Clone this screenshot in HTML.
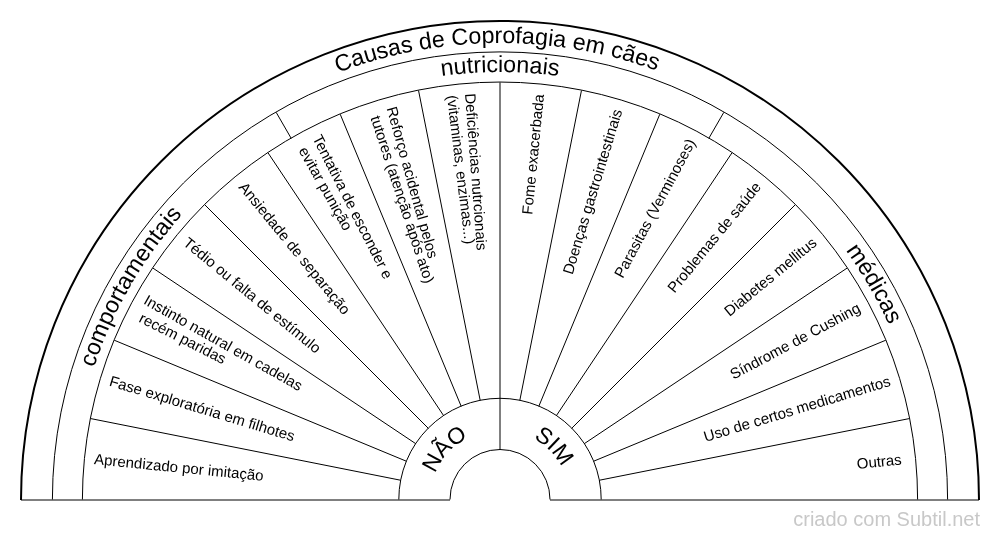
<!DOCTYPE html>
<html><head><meta charset="utf-8"><style>
html,body{margin:0;padding:0;background:#fff;width:1000px;height:540px;overflow:hidden}
svg{position:absolute;left:0;top:0;will-change:transform}
</style></head><body>
<svg width="1000" height="540" viewBox="0 0 1000 540">
<defs>
<path id="pt" d="M43.00,500.00 A457,457 0 0 1 957.00,500.00"/>
<path id="pc" d="M72.00,500.00 A428,428 0 0 1 928.00,500.00"/>
<path id="pcl" d="M73.00,500.00 A427,427 0 0 1 927.00,500.00"/>
<path id="pcr" d="M73.50,500.00 A426.5,426.5 0 0 1 926.50,500.00"/>
<path id="pr" d="M430.00,500.00 A70,70 0 0 1 570.00,500.00"/>
</defs>
<g fill="none" stroke="#000">
<path d="M21.00,500.00 A479,479 0 0 1 979.00,500.00" stroke-width="2.0"/>
<path d="M52.40,499.50 A447.6,447.6 0 0 1 947.60,499.50" stroke-width="1.0"/>
<path d="M82.40,499.50 A417.6,417.6 0 0 1 917.60,499.50" stroke-width="1.0"/>
<path d="M398.80,499.50 A101.2,101.2 0 0 1 601.20,499.50" stroke-width="1.0"/>
<path d="M450.00,499.50 A50.0,50.0 0 0 1 550.00,499.50" stroke-width="1.0"/>
<path d="M21,500 H450.0 M550.0,500 H979" stroke-width="1.0" stroke="#000"/>
<path d="M400.74,480.26 L90.42,418.53" stroke-width="1.0"/>
<path d="M406.50,461.27 L114.19,340.19" stroke-width="1.0"/>
<path d="M415.86,443.78 L152.78,267.99" stroke-width="1.0"/>
<path d="M428.44,428.44 L204.71,204.71" stroke-width="1.0"/>
<path d="M443.78,415.86 L267.99,152.78" stroke-width="1.0"/>
<path d="M461.27,406.50 L340.19,114.19" stroke-width="1.0"/>
<path d="M480.26,400.74 L418.53,90.42" stroke-width="1.0"/>
<path d="M500.00,450.00 L500.00,82.40" stroke-width="1.0"/>
<path d="M519.74,400.74 L581.47,90.42" stroke-width="1.0"/>
<path d="M538.73,406.50 L659.81,114.19" stroke-width="1.0"/>
<path d="M556.22,415.86 L732.01,152.78" stroke-width="1.0"/>
<path d="M571.56,428.44 L795.29,204.71" stroke-width="1.0"/>
<path d="M584.14,443.78 L847.22,267.99" stroke-width="1.0"/>
<path d="M593.50,461.27 L885.81,340.19" stroke-width="1.0"/>
<path d="M599.26,480.26 L909.58,418.53" stroke-width="1.0"/>
<path d="M291.20,138.35 L276.20,112.37" stroke-width="1.0"/>
<path d="M708.80,138.35 L723.80,112.37" stroke-width="1.0"/>
</g>
<g font-family="Liberation Sans, sans-serif" fill="#000">
<text font-size="23.25" text-anchor="middle"><textPath href="#pt" startOffset="714.85">Causas de Coprofagia em cães</textPath></text>
<text font-size="23.25" text-anchor="middle"><textPath href="#pcl" startOffset="223.58">comportamentais</textPath></text>
<text font-size="23.25" text-anchor="middle"><textPath href="#pc" startOffset="50%">nutricionais</textPath></text>
<text font-size="23.25" text-anchor="middle"><textPath href="#pcr" startOffset="1115.57">médicas</textPath></text>
<text font-size="23" text-anchor="middle"><textPath href="#pr" startOffset="51.92">NÃO</textPath></text>
<text font-size="23" text-anchor="middle"><textPath href="#pr" startOffset="164.93">SIM</textPath></text>
<text transform="translate(500,500) rotate(5.6250)" x="-407.8" y="4.10" font-size="15" text-anchor="start" xml:space="preserve">Aprendizado por imitação</text>
<text transform="translate(500,500) rotate(16.8750)" x="-407.8" y="4.10" font-size="15" text-anchor="start" xml:space="preserve">Fase exploratória em filhotes</text>
<text transform="translate(500,500) rotate(29.4040)" x="-407.8" y="4.10" font-size="15" text-anchor="start" xml:space="preserve">Instinto natural em cadelas</text>
<text transform="translate(500,500) rotate(26.8460)" x="-407.8" y="4.10" font-size="15" text-anchor="start" xml:space="preserve"> recém paridas</text>
<text transform="translate(500,500) rotate(39.3750)" x="-407.8" y="4.10" font-size="15" text-anchor="start" xml:space="preserve">Tédio ou falta de estímulo</text>
<text transform="translate(500,500) rotate(50.6250)" x="-407.8" y="4.10" font-size="15" text-anchor="start" xml:space="preserve">Ansiedade de separação</text>
<text transform="translate(500,500) rotate(63.1540)" x="-407.8" y="4.10" font-size="15" text-anchor="start" xml:space="preserve">Tentativa de esconder e</text>
<text transform="translate(500,500) rotate(60.5960)" x="-407.8" y="4.10" font-size="15" text-anchor="start" xml:space="preserve"> evitar punição</text>
<text transform="translate(500,500) rotate(74.4040)" x="-407.8" y="4.10" font-size="15" text-anchor="start" xml:space="preserve">Reforço acidental pelos</text>
<text transform="translate(500,500) rotate(71.8460)" x="-407.8" y="4.10" font-size="15" text-anchor="start" xml:space="preserve"> tutores (atenção após ato)</text>
<text transform="translate(500,500) rotate(85.6540)" x="-407.8" y="4.10" font-size="15" text-anchor="start" xml:space="preserve">Deficiências nutrcionais</text>
<text transform="translate(500,500) rotate(83.0960)" x="-407.8" y="4.10" font-size="15" text-anchor="start" xml:space="preserve">(vitaminas, enzimas...)</text>
<text transform="translate(500,500) rotate(-84.3750)" x="407.8" y="4.10" font-size="15" text-anchor="end" xml:space="preserve">Fome exacerbada</text>
<text transform="translate(500,500) rotate(-73.1250)" x="407.8" y="4.10" font-size="15" text-anchor="end" xml:space="preserve">Doenças gastrointestinais</text>
<text transform="translate(500,500) rotate(-61.8750)" x="407.8" y="4.10" font-size="15" text-anchor="end" xml:space="preserve">Parasitas (Verminoses)</text>
<text transform="translate(500,500) rotate(-50.6250)" x="407.8" y="4.10" font-size="15" text-anchor="end" xml:space="preserve">Problemas de saúde</text>
<text transform="translate(500,500) rotate(-39.3750)" x="407.8" y="4.10" font-size="15" text-anchor="end" xml:space="preserve">Diabetes mellitus</text>
<text transform="translate(500,500) rotate(-28.1250)" x="407.8" y="4.10" font-size="15" text-anchor="end" xml:space="preserve">Síndrome de Cushing</text>
<text transform="translate(500,500) rotate(-16.8750)" x="407.8" y="4.10" font-size="15" text-anchor="end" xml:space="preserve">Uso de certos medicamentos</text>
<text transform="translate(500,500) rotate(-5.6250)" x="407.8" y="4.10" font-size="15" text-anchor="end" xml:space="preserve">Outras </text>
</g>
<text x="980" y="525.5" text-anchor="end" font-family="Liberation Sans, sans-serif" font-size="20" fill="#c8c8c8">criado com Subtil.net</text>
</svg>
</body></html>
